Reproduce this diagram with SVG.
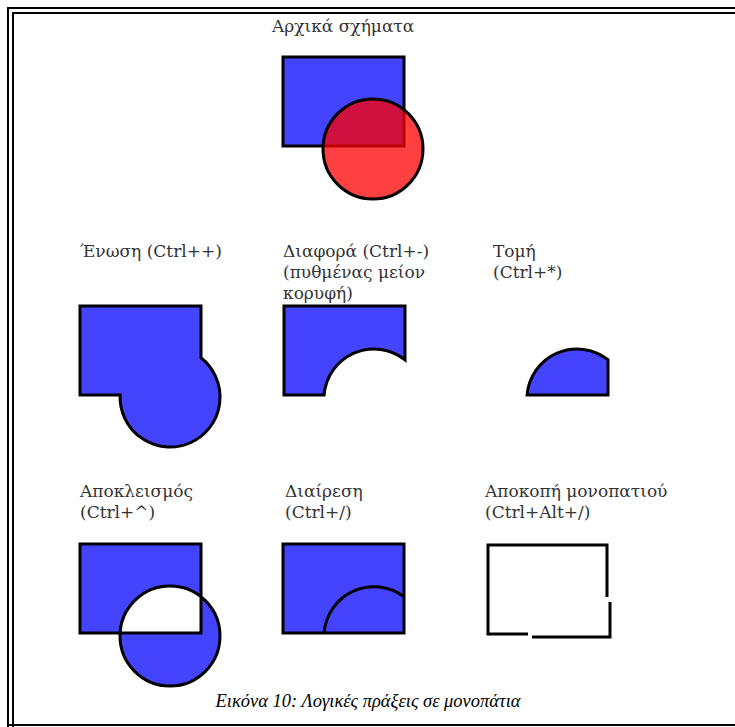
<svg xmlns="http://www.w3.org/2000/svg" width="735" height="727" viewBox="0 0 735 727">
<style>
.lbl{font-family:"DejaVu Serif","Liberation Serif",serif;font-size:17px;fill:#333}
.cap{font-family:"Liberation Serif","DejaVu Serif",serif;font-size:18.5px;font-style:italic;fill:#000}
.sh{fill:#4444ff;stroke:#000;stroke-width:3;stroke-linejoin:miter}
.ln{fill:none;stroke:#000;stroke-width:3}
.frame{fill:none;stroke:#000;stroke-width:2}
</style>
<rect x="0" y="0" width="735" height="727" fill="#fff"/>
<g id="frame">
<path class="frame" d="M8 727 V8 H735"/>
<path class="frame" d="M13 727 V13 H735"/>
<path class="frame" d="M8 725 H735"/>
</g>
<g id="original">
<text class="lbl" x="272" y="32">Αρχικά σχήματα</text>
<rect class="sh" x="283" y="57" width="121" height="89"/>
<circle cx="373" cy="149" r="50" fill="#ff0000" fill-opacity="0.75" stroke="#000" stroke-width="3"/>
</g>
<g id="union">
<text class="lbl" x="80" y="257">Ένωση (Ctrl++)</text>
<path class="sh" d="M80 306 H201 V357.8 A50 50 0 1 1 120.1 395 H80 Z"/>
</g>
<g id="difference">
<text class="lbl" x="283" y="257">Διαφορά (Ctrl+-)</text>
<text class="lbl" x="283" y="278">(πυθμένας μείον</text>
<text class="lbl" x="283" y="299">κορυφή)</text>
<path class="sh" d="M284 306 H405 V359.8 A50 50 0 0 0 324.1 395 H284 Z"/>
</g>
<g id="intersection">
<text class="lbl" x="493" y="257">Τομή</text>
<text class="lbl" x="493" y="278">(Ctrl+*)</text>
<path class="sh" d="M527.1 395 A50 50 0 0 1 608 359.8 V395 Z"/>
</g>
<g id="exclusion">
<text class="lbl" x="80" y="497">Αποκλεισμός</text>
<text class="lbl" x="80" y="518">(Ctrl+^)</text>
<path class="sh" fill-rule="evenodd" d="M80 544 H201 V633 H80 Z M220 636 A50 50 0 1 1 120 636 A50 50 0 1 1 220 636 Z"/>
</g>
<g id="division">
<text class="lbl" x="285" y="497">Διαίρεση</text>
<text class="lbl" x="285" y="518">(Ctrl+/)</text>
<rect class="sh" x="283" y="544" width="121" height="89"/>
<path class="ln" d="M324.1 633 A50 50 0 0 1 404 596.8"/>
</g>
<g id="cutpath">
<text class="lbl" x="485" y="497">Αποκοπή μονοπατιού</text>
<text class="lbl" x="485" y="518">(Ctrl+Alt+/)</text>
<path class="ln" d="M607 597 V545 H488 V634 H528"/>
<path class="ln" d="M532 637 H610 V602"/>
</g>
<g id="caption">
<text class="cap" x="368" y="707" text-anchor="middle">Εικόνα 10: Λογικές πράξεις σε μονοπάτια</text>
</g>
</svg>
